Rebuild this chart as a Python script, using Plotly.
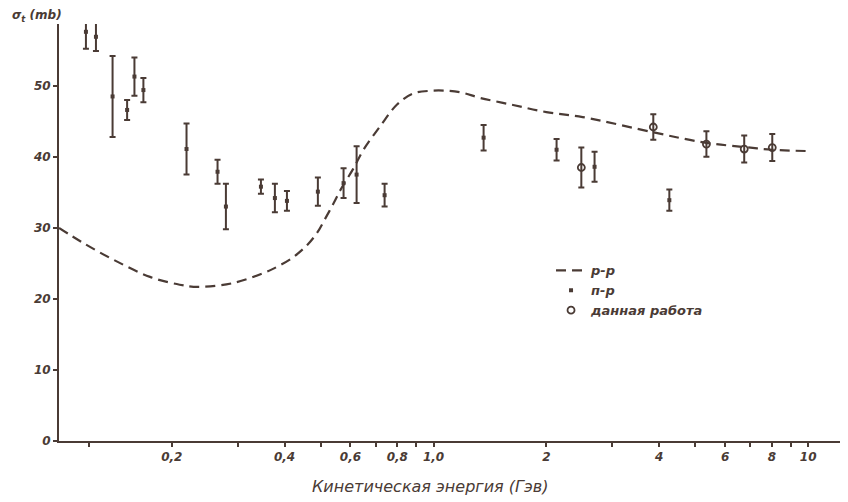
import plotly.graph_objects as go

# p-p total cross section curve (dashed)
pp_E = [0.1, 0.115, 0.14, 0.175, 0.21, 0.235, 0.29, 0.35, 0.375, 0.42, 0.46, 0.49,
        0.51, 0.54, 0.565, 0.61, 0.65, 0.72, 0.8, 0.88, 0.98, 1.09, 1.2, 1.33,
        1.63, 2.0, 2.5, 3.9, 5.3, 6.7, 8.0, 10.2]
pp_sigma = [30.0, 28.0, 25.5, 23.1, 22.0, 21.7, 22.2, 23.6, 24.3, 25.8, 27.6, 29.4,
            31.0, 33.4, 35.4, 38.3, 41.0, 44.3, 47.4, 48.9, 49.3, 49.3, 49.0, 48.3,
            47.3, 46.3, 45.6, 43.4, 42.0, 41.4, 41.0, 40.8]

# n-p data points with errors
np_E = [0.118, 0.1255, 0.139, 0.152, 0.159, 0.168, 0.219, 0.265, 0.279, 0.346,
        0.377, 0.406, 0.491, 0.575, 0.623, 0.740, 1.36, 2.13, 2.69, 4.26]
np_sigma = [57.6, 56.9, 48.5, 46.6, 51.3, 49.4, 41.1, 37.9, 33.0, 35.8,
            34.2, 33.8, 35.1, 36.3, 37.5, 34.6, 42.7, 41.0, 38.6, 33.9]
np_err = [2.4, 2.0, 5.7, 1.4, 2.7, 1.7, 3.6, 1.7, 3.2, 1.0,
          2.0, 1.4, 2.0, 2.1, 4.0, 1.6, 1.8, 1.5, 2.1, 1.5]

# present work (open circles)
tw_E = [2.48, 3.86, 5.35, 6.75, 8.02]
tw_sigma = [38.5, 44.2, 41.8, 41.1, 41.3]
tw_err = [2.8, 1.8, 1.8, 1.9, 1.9]

x_tickvals = [0.12, 0.2, 0.3, 0.4, 0.5, 0.6, 0.7, 0.8, 0.9, 1.0, 2, 3, 4, 5, 6, 7, 8, 9, 10]
x_ticktext = [" ", "0,2", " ", "0,4", " ", "0,6", " ", "0,8", " ", "1,0", "2", " ", "4", " ", "6", " ", "8", " ", "10"]
y_tickvals = [0, 10, 20, 30, 40, 50]
y_ticktext = ["0", "10", "20", "30", "40", "50"]

ink = "#4a3b35"
font = "DejaVu Sans"

fig = go.Figure()
fig.add_trace(go.Scatter(
    x=pp_E, y=pp_sigma, mode="lines", name="<i><b>р-р</b></i>",
    line=dict(color=ink, width=2.2, dash="10px,6px", shape="spline", smoothing=1.0),
))
fig.add_trace(go.Scatter(
    x=np_E, y=np_sigma, mode="markers", name="<i><b>п-р</b></i>",
    marker=dict(symbol="square", size=4, color=ink),
    error_y=dict(type="data", array=np_err, color=ink, thickness=2, width=3),
))
fig.add_trace(go.Scatter(
    x=tw_E, y=tw_sigma, mode="markers", name="<i><b>данная работа</b></i>",
    marker=dict(symbol="circle-open", size=7, color=ink, line=dict(width=1.8, color=ink)),
    error_y=dict(type="data", array=tw_err, color=ink, thickness=2, width=3),
))

# page body has an 8px default margin: figure is sized/offset to compensate
fig.update_layout(
    width=840, height=494,
    margin=dict(l=51, r=8, t=16, b=61),
    paper_bgcolor="white", plot_bgcolor="white",
    font=dict(family=font, color=ink, size=12),
    showlegend=True,
    legend=dict(x=0.63, y=0.445, xanchor="left", yanchor="top",
                bgcolor="rgba(0,0,0,0)", font=dict(size=13, color=ink),
                itemwidth=30, tracegroupgap=0),
    xaxis=dict(type="log", range=[-1.0, 1.085], tickvals=x_tickvals,
               ticktext=["<i><b>%s</b></i>" % t for t in x_ticktext],
               showgrid=False, zeroline=False, showline=True, linecolor=ink, linewidth=2,
               ticks="outside", ticklen=4, tickwidth=1.5, tickcolor=ink,
               tickfont=dict(size=12, color=ink)),
    yaxis=dict(range=[0, 58.7], tickvals=y_tickvals,
               ticktext=["<i><b>%s</b></i>" % t for t in y_ticktext],
               showgrid=False, zeroline=False, showline=True, linecolor=ink, linewidth=2,
               ticks="outside", ticklen=4, tickwidth=1.5, tickcolor=ink,
               tickfont=dict(size=12, color=ink)),
    annotations=[
        dict(text="<i>Кинетическая энергия (Гэв)</i>", xref="paper", yref="paper",
             x=0.475, y=-0.11, xanchor="center", yanchor="middle", showarrow=False,
             font=dict(size=16, color=ink, family=font)),
        dict(text="<i><b>σ<sub>t</sub> (mb)</b></i>", xref="paper", yref="paper",
             x=-0.063, y=1.02, xanchor="left", yanchor="middle", showarrow=False,
             font=dict(size=12, color=ink, family=font)),
    ],
)

fig.write_html("out.html")
